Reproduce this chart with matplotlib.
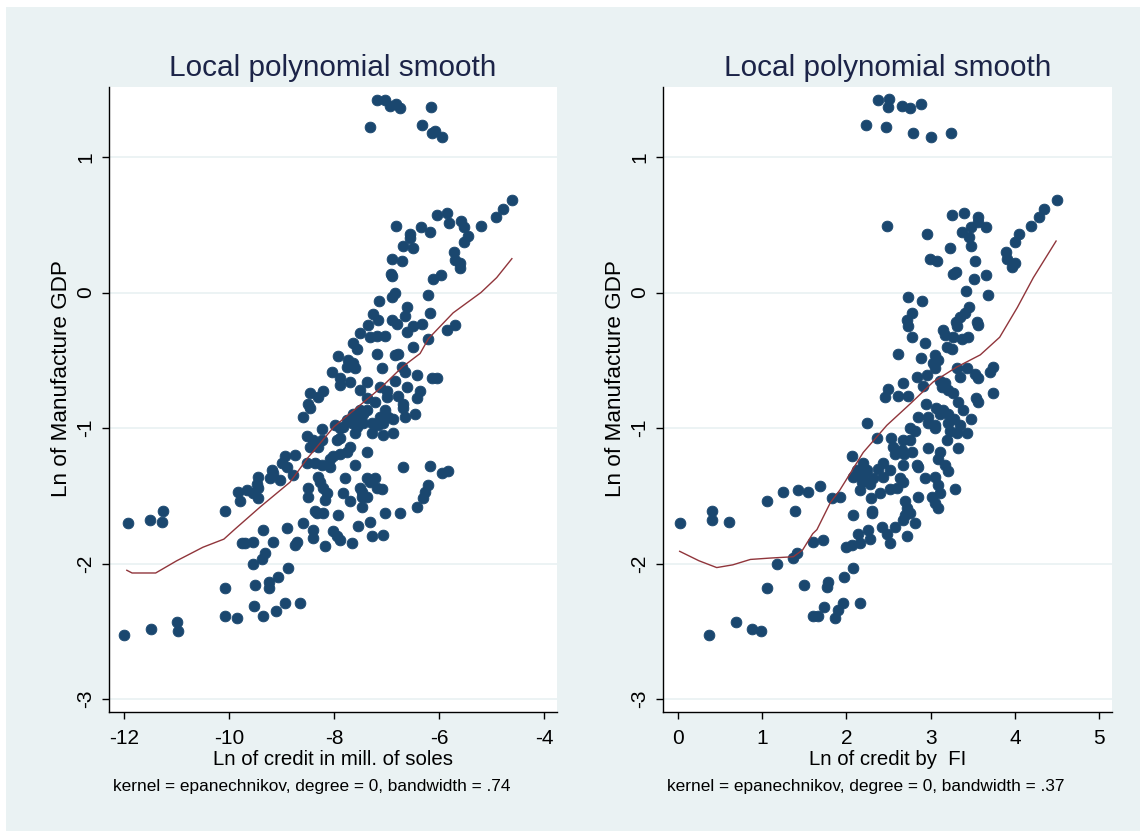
import matplotlib
matplotlib.use("Agg")
import matplotlib.pyplot as plt
from matplotlib.patches import Rectangle

plt.rcParams['font.family'] = ['Liberation Sans', 'DejaVu Sans']
plt.rcParams['axes.unicode_minus'] = False

# left panel: Ln of credit in mill. of soles vs Ln of Manufacture GDP
credit_soles = [
	-7.31, -7.18, -7.03, -6.93, -6.82, -6.74, -6.32, -6.15, -6.13, -6.08, -5.94,
	-4.61, -4.78, -4.91, -5.20, -5.58, -5.52, -5.45, -5.52, -5.71, -5.69, -5.60, -5.60,
	-5.85, -6.04, -5.81, -6.34, -6.17, -6.82, -6.55, -6.55, -6.69, -6.50, -6.90, -6.70,
	-6.91, -6.90, -5.96, -6.11, -6.21, -6.84, -6.90, -7.14,
	-6.61, -6.17, -7.26, -7.16, -6.90, -6.80, -6.65, -7.35, -6.50, -6.32, -6.61, -7.50,
	-7.31, -7.18, -7.03, -6.21, -5.85, -5.69, -7.64, -7.56, -7.18, -6.78, -6.84, -6.50,
	-7.92, -7.73, -7.64, -7.75, -7.60, -7.09, -6.70, -6.65, -6.42, -6.13, -6.04,
	-8.04, -7.89, -7.70, -7.89, -7.37, -6.84, -7.50, -7.12, -6.99, -6.61, -6.36,
	-8.46, -8.21, -8.30, -7.37, -6.99, -6.78, -6.42, -8.50, -8.46, -7.22, -6.69, -6.69,
	-7.50, -7.37, -7.03, -8.59, -7.64, -7.50, -7.45, -7.12, -6.97, -6.88, -6.46, -6.65,
	-7.75, -7.66, -7.45, -7.28, -7.07, -7.98, -7.83, -7.56, -7.16, -8.23, -7.89, -7.60,
	-7.28, -7.07, -6.88, -8.51, -8.40, -8.23, -7.94, -7.89, -8.46, -8.30, -7.70, -7.75,
	-7.89, -8.02, -8.08, -7.37, -8.74, -8.93, -8.99, -8.90, -8.51, -8.36, -8.23, -8.08,
	-7.60, -6.69, -6.17, -5.94, -5.83, -9.18, -9.16, -9.45, -9.22, -9.03, -8.78, -8.30,
	-8.27, -7.79, -7.37, -7.22, -9.47, -9.45, -8.21, -8.50, -7.50, -7.31, -7.18, -7.09,
	-6.21, -9.83, -9.66, -9.54, -9.45, -9.79, -8.50, -8.13, -7.83, -7.47, -7.47, -7.37,
	-6.27, -6.30, -8.17, -7.70, -7.47, -6.42, -10.08, -11.26, -8.36, -8.32, -8.21, -7.92,
	-7.03, -6.74, -11.92, -11.50, -11.28, -7.54, -7.31, -8.59, -8.40, -8.02, -8.90, -9.35,
	-8.40, -7.94, -7.89, -7.28, -7.07, -9.75, -9.70, -9.54, -9.16, -8.71, -8.74, -8.17,
	-7.66, -9.31, -9.37, -9.54, -8.88, -9.07, -9.24, -9.24, -9.50, -10.08, -8.65, -8.93,
	-9.10, -9.52, -9.35, -9.85, -10.08, -10.99, -10.97, -11.49, -12.00,
]
gdp_left = [
	1.22, 1.42, 1.42, 1.38, 1.39, 1.36, 1.24, 1.37, 1.18, 1.19, 1.15,
	0.68, 0.62, 0.56, 0.49, 0.53, 0.48, 0.42, 0.37, 0.30, 0.24, 0.22, 0.18,
	0.59, 0.57, 0.51, 0.48, 0.45, 0.49, 0.43, 0.40, 0.34, 0.33, 0.25, 0.23,
	0.14, 0.12, 0.13, 0.10, -0.02, 0.00, -0.03, -0.06,
	-0.11, -0.15, -0.16, -0.20, -0.20, -0.23, -0.17, -0.24, -0.25, -0.23, -0.29, -0.30,
	-0.33, -0.32, -0.32, -0.34, -0.28, -0.24, -0.37, -0.42, -0.45, -0.45, -0.46, -0.40,
	-0.47, -0.50, -0.52, -0.55, -0.56, -0.56, -0.55, -0.59, -0.61, -0.63, -0.63,
	-0.59, -0.63, -0.66, -0.68, -0.66, -0.65, -0.72, -0.70, -0.73, -0.70, -0.73,
	-0.74, -0.73, -0.77, -0.78, -0.77, -0.76, -0.78, -0.82, -0.85, -0.81, -0.82, -0.85,
	-0.87, -0.87, -0.87, -0.92, -0.90, -0.92, -0.90, -0.92, -0.92, -0.93, -0.90, -0.92,
	-0.94, -0.96, -0.96, -0.96, -0.96, -0.98, -0.99, -0.99, -0.98, -1.01, -1.00, -1.04,
	-1.04, -1.05, -1.04, -1.06, -1.09, -1.09, -1.09, -1.07, -1.14, -1.14, -1.14, -1.18,
	-1.19, -1.21, -1.23, -1.18, -1.20, -1.21, -1.26, -1.29, -1.26, -1.26, -1.27, -1.29,
	-1.27, -1.29, -1.28, -1.33, -1.32, -1.31, -1.33, -1.36, -1.37, -1.38, -1.35, -1.36,
	-1.40, -1.37, -1.37, -1.37, -1.41, -1.44, -1.44, -1.44, -1.44, -1.40, -1.44, -1.45,
	-1.42, -1.47, -1.46, -1.48, -1.52, -1.54, -1.51, -1.48, -1.48, -1.47, -1.51, -1.51,
	-1.47, -1.52, -1.53, -1.54, -1.58, -1.58, -1.61, -1.61, -1.61, -1.63, -1.63, -1.64,
	-1.63, -1.63, -1.70, -1.68, -1.69, -1.72, -1.69, -1.70, -1.75, -1.76, -1.74, -1.75,
	-1.81, -1.80, -1.83, -1.80, -1.79, -1.85, -1.85, -1.84, -1.84, -1.84, -1.86, -1.87,
	-1.85, -1.92, -1.97, -2.00, -2.03, -2.10, -2.14, -2.18, -2.16, -2.18, -2.29, -2.29,
	-2.35, -2.31, -2.39, -2.40, -2.39, -2.43, -2.50, -2.48, -2.53,
]
smooth_left_x = [-11.95, -11.85, -11.40, -11.00, -10.50, -10.10, -9.90, -9.40, -8.84, -8.50,
	-8.00, -7.50, -7.10, -6.70, -6.36, -6.20, -5.73, -5.20, -4.90, -4.61]
smooth_left_y = [-2.05, -2.07, -2.07, -1.98, -1.88, -1.82, -1.75, -1.58, -1.40, -1.22,
	-0.99, -0.83, -0.70, -0.55, -0.45, -0.34, -0.15, 0.00, 0.11, 0.25]

# right panel: Ln of credit by FI vs Ln of Manufacture GDP
credit_fi = [
	2.23, 2.38, 2.51, 2.49, 2.66, 2.76, 2.89, 2.47, 2.79, 3.00, 3.24,
	4.50, 4.35, 4.29, 4.19, 4.05, 4.00, 3.90, 3.91, 4.00, 3.97, 2.48, 3.25, 3.40, 3.56,
	3.56, 3.66, 3.48, 3.37, 3.46, 3.48, 2.96, 3.23, 2.99, 3.08, 3.53, 3.27, 3.30, 3.52,
	3.66, 3.42, 3.68, 2.73, 2.90,
	2.78, 2.72, 2.73, 3.46, 3.41, 3.35, 3.30, 3.31, 3.55, 3.56, 3.15, 3.17, 2.78,
	3.27, 3.37, 3.44, 2.93, 3.19, 3.25, 2.61, 2.89, 3.05, 3.09, 3.03, 3.05, 3.31, 3.43,
	3.74, 3.71, 3.53, 3.56, 3.35, 2.84, 2.96, 3.11, 3.17, 2.67, 2.91, 3.14, 3.21, 3.27,
	2.49, 2.61, 2.73, 2.46, 3.74, 3.54, 3.56, 3.33, 2.95, 3.06, 3.15, 3.38, 2.85, 2.97,
	3.11, 3.21, 3.28, 3.48, 2.24, 2.97, 3.05, 3.21, 3.35, 2.76, 2.81, 3.05, 3.23, 3.31,
	3.43, 2.36, 2.53, 2.67, 2.76, 3.19, 2.55, 2.66, 2.78, 2.97, 3.11, 3.33, 2.58, 2.68,
	2.07, 3.09, 2.20, 2.43, 2.67, 2.84, 3.17, 2.13, 2.24, 2.38, 2.52, 3.21, 2.85, 2.08,
	2.20, 2.32, 2.43, 2.64, 2.93, 3.05, 2.19, 2.28, 2.67, 3.09, 2.16, 2.52, 2.60, 3.29,
	1.69, 1.54, 1.43, 1.25, 1.92, 1.83, 2.40, 2.85, 3.02, 3.11, 2.29, 2.70, 3.05, 3.09,
	1.06, 2.72, 2.76, 2.30, 2.30, 1.39, 0.40, 2.08, 2.67, 2.81, 0.02, 0.40, 0.61, 2.42,
	2.58, 2.26, 2.70, 2.48, 2.72, 2.52, 2.14, 2.28, 2.16, 2.07, 2.00, 1.60, 1.72, 1.41,
	1.37, 1.18, 2.08, 1.97, 1.78, 1.77, 1.50, 1.06, 2.16, 1.96, 1.90, 1.86, 1.73, 1.60,
	1.66, 0.69, 0.88, 0.99, 0.37,
]
gdp_right = [
	1.24, 1.42, 1.43, 1.37, 1.38, 1.36, 1.39, 1.22, 1.18, 1.15, 1.18,
	0.68, 0.62, 0.56, 0.49, 0.43, 0.37, 0.30, 0.25, 0.22, 0.19, 0.49, 0.57, 0.59, 0.56,
	0.52, 0.48, 0.48, 0.45, 0.41, 0.34, 0.43, 0.33, 0.25, 0.23, 0.23, 0.14, 0.15, 0.10,
	0.13, 0.01, -0.02, -0.03, -0.06,
	-0.15, -0.20, -0.25, -0.11, -0.15, -0.18, -0.22, -0.25, -0.22, -0.24, -0.28, -0.31, -0.33,
	-0.33, -0.34, -0.33, -0.37, -0.40, -0.42, -0.45, -0.48, -0.46, -0.50, -0.52, -0.56, -0.56, -0.56,
	-0.55, -0.59, -0.60, -0.63, -0.62, -0.62, -0.61, -0.65, -0.67, -0.67, -0.69, -0.70, -0.72, -0.74,
	-0.71, -0.76, -0.76, -0.77, -0.74, -0.78, -0.81, -0.81, -0.82, -0.85, -0.87, -0.87, -0.92, -0.92,
	-0.90, -0.90, -0.93, -0.93, -0.96, -0.96, -0.98, -0.96, -0.98, -1.00, -1.02, -1.00, -1.02, -1.04,
	-1.04, -1.07, -1.07, -1.09, -1.09, -1.09, -1.14, -1.16, -1.18, -1.15, -1.18, -1.15, -1.19, -1.19,
	-1.21, -1.23, -1.26, -1.26, -1.27, -1.27, -1.27, -1.31, -1.31, -1.30, -1.31, -1.32, -1.29, -1.36,
	-1.36, -1.37, -1.36, -1.37, -1.37, -1.36, -1.40, -1.41, -1.40, -1.42, -1.46, -1.45, -1.44, -1.45,
	-1.43, -1.47, -1.46, -1.47, -1.51, -1.52, -1.48, -1.51, -1.51, -1.48, -1.52, -1.54, -1.55, -1.59,
	-1.54, -1.59, -1.63, -1.61, -1.63, -1.61, -1.61, -1.64, -1.68, -1.70, -1.70, -1.68, -1.69, -1.73,
	-1.73, -1.75, -1.64, -1.78, -1.80, -1.85, -1.78, -1.82, -1.85, -1.86, -1.88, -1.84, -1.83, -1.92,
	-1.96, -2.00, -2.03, -2.10, -2.14, -2.17, -2.16, -2.18, -2.29, -2.29, -2.34, -2.40, -2.32, -2.39,
	-2.39, -2.43, -2.48, -2.50, -2.53,
]
smooth_right_x = [0.02, 0.25, 0.46, 0.65, 0.86, 1.09, 1.37, 1.48, 1.60, 1.65, 1.81, 1.92,
	2.20, 2.48, 2.76, 3.03, 3.31, 3.59, 3.82, 4.03, 4.22, 4.49]
smooth_right_y = [-1.91, -1.98, -2.03, -2.01, -1.97, -1.96, -1.95, -1.90, -1.78, -1.75, -1.55, -1.46,
	-1.18, -0.98, -0.82, -0.66, -0.55, -0.46, -0.33, -0.11, 0.11, 0.38]

y_ticks = [1, 0, -1, -2, -3]
left_ticks = [-12, -10, -8, -6, -4]
right_ticks = [0, 1, 2, 3, 4, 5]

BG = '#eaf2f3'
NAVY = '#1a476f'
MAROON = '#90353b'
W, H = 1144, 836


def panel(fig, left_px, width_px, xs, ys, sx, sy, xlim, xticks, xlabel, note):
	ax = fig.add_axes([left_px / W, 1 - 712 / H, width_px / W, 625 / H])
	ax.set_facecolor('white')
	ax.scatter(xs, ys, s=60, color=NAVY, edgecolors=NAVY, linewidths=0.6, zorder=3)
	ax.plot(sx, sy, color=MAROON, linewidth=1.0, zorder=4)

	ax.set_xlim(*xlim)
	ax.set_ylim(-3.096, 1.517)
	ax.set_xticks(xticks)
	ax.set_yticks(y_ticks)

	# stata look: only left and bottom axis lines, light horizontal grid
	ax.spines['right'].set_visible(False)
	ax.spines['top'].set_visible(False)
	ax.spines['left'].set_linewidth(1.0)
	ax.spines['bottom'].set_linewidth(1.0)
	ax.yaxis.grid(True, color=BG, linewidth=1.3)
	ax.set_axisbelow(True)
	ax.tick_params(axis='both', length=5, width=1, labelsize=15, direction='out')
	ax.tick_params(axis='x', pad=7)
	ax.tick_params(axis='y', pad=5)
	for lab in ax.get_yticklabels():
		lab.set_rotation(90)
		lab.set_va('center')

	ax.set_title("Local polynomial smooth", fontsize=21.4, color='#1c2448', pad=8)
	ax.set_xlabel(xlabel, fontsize=14.7, labelpad=2)
	ax.set_ylabel("Ln of Manufacture GDP", fontsize=16.2)
	ax.yaxis.set_label_coords(-0.082, 0.534)
	fig.text((left_px + 4) / W, 1 - 786 / H, note, fontsize=12.4, va='center', ha='left')
	return ax


def main():
	fig = plt.figure(figsize=(W / 100, H / 100), dpi=100, facecolor='white')
	fig.patches.append(Rectangle((6 / W, 5 / H), 1134 / W, 824 / H, transform=fig.transFigure,
		facecolor=BG, edgecolor='none', zorder=-10))

	panel(fig, 109, 448, credit_soles, gdp_left, smooth_left_x, smooth_left_y, (-12.29, -3.75),
		left_ticks, "Ln of credit in mill. of soles", "kernel = epanechnikov, degree = 0, bandwidth = .74")
	panel(fig, 663, 449, credit_fi, gdp_right, smooth_right_x, smooth_right_y, (-0.178, 5.154),
		right_ticks, "Ln of credit by  FI", "kernel = epanechnikov, degree = 0, bandwidth = .37")

	fig.savefig("out.png", dpi=100, facecolor='white')


if __name__ == '__main__':
	main()
